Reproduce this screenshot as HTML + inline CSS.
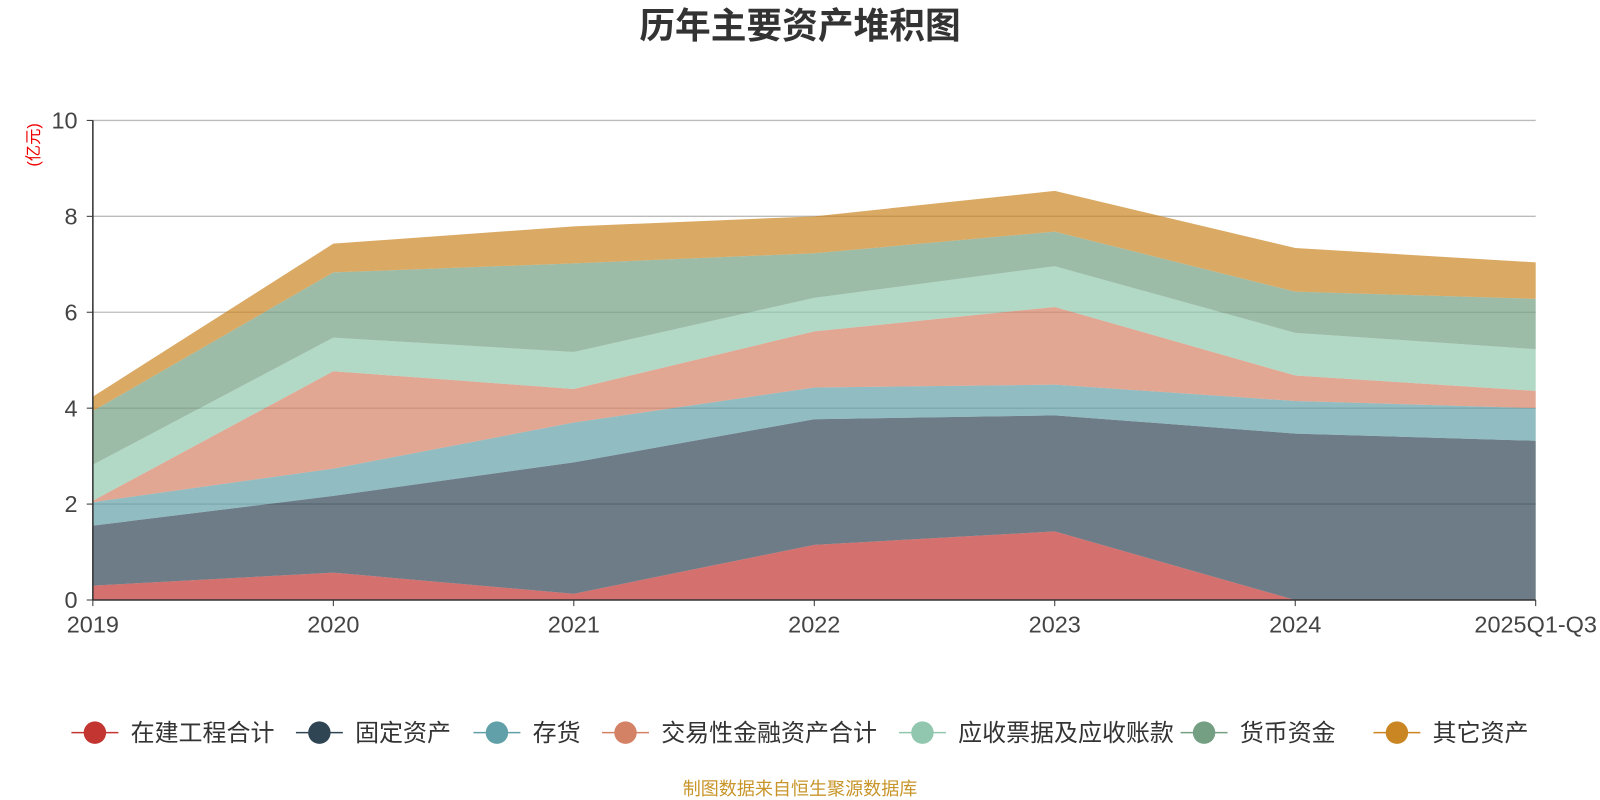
<!DOCTYPE html>
<html><head><meta charset="utf-8">
<style>
body{margin:0;background:#fff;font-family:"Liberation Sans","Noto Sans CJK SC",sans-serif;}
#wrap{position:relative;width:1600px;height:800px;overflow:hidden;}
</style></head>
<body>
<div id="wrap">
<svg id="svg" width="1600" height="800" xmlns="http://www.w3.org/2000/svg" style="font-family:'Liberation Sans','Noto Sans CJK SC',sans-serif">
<g transform="scale(1.0204)">
<text x="784" y="37" text-anchor="middle" font-size="35" font-weight="bold" fill="#333">历年主要资产堆积图</text>
<text transform="translate(38,142) rotate(-90)" text-anchor="middle" font-size="16" fill="#e00">(亿元)</text>
<g id="grid"></g><g id="areas"></g><g id="axes"></g><g id="legend"></g>
<text x="784" y="779" text-anchor="middle" font-size="17.7" fill="#c8952a">制图数据来自恒生聚源数据库</text>
</g>
</svg>
</div>
<script>
const categories=["2019","2020","2021","2022","2023","2024","2025Q1-Q3"];
const seriesNames=["在建工程合计","固定资产","存货","交易性金融资产合计","应收票据及应收账款","货币资金","其它资产"];
const sConstruction=[0.30,0.57,0.13,1.15,1.43,0,0];
const sFixed=[1.25,1.60,2.74,2.62,2.42,3.47,3.32];
const sInventory=[0.49,0.57,0.83,0.66,0.64,0.68,0.68];
const sTrading=[0.03,2.03,0.70,1.17,1.62,0.53,0.36];
const sReceivable=[0.75,0.70,0.77,0.70,0.85,0.89,0.87];
const sCash=[1.12,1.36,1.85,0.93,0.72,0.86,1.05];
const sOther=[0.30,0.60,0.77,0.77,0.85,0.91,0.76];
const yTicks=[0,2,4,6,8,10];
const series=[sConstruction,sFixed,sInventory,sTrading,sReceivable,sCash,sOther];
const colors=["#c23531","#2f4554","#61a0a8","#d48265","#91c7ae","#749f83","#ca8622"];
const X0=91,X1=1505,Y0=588,Y1=118,YMAX=10;
const xs=i=>X0+(X1-X0)*i/(categories.length-1);
const ys=v=>Y0-(Y0-Y1)*v/YMAX;
const NS="http://www.w3.org/2000/svg";
function mk(t,a,p){const e=document.createElementNS(NS,t);for(const k in a)e.setAttribute(k,a[k]);p.appendChild(e);return e;}
const grid=document.getElementById('grid'),areas=document.getElementById('areas'),axes=document.getElementById('axes'),legend=document.getElementById('legend');
yTicks.forEach(t=>{
 if(t>0){const l=mk('line',{x1:X0,x2:X1,y1:ys(t),y2:ys(t),stroke:'#bbb','stroke-width':1.3},grid);
 
 }
 const tk=mk('line',{x1:X0-6,x2:X0,y1:ys(t),y2:ys(t),stroke:'#333'},axes);
 
 
 const tx=mk('text',{x:X0-15,y:ys(t)+8,'text-anchor':'end','font-size':23,fill:'#444'},axes);tx.textContent=t;
 
 
});
let base=categories.map(()=>0);
series.forEach((s,si)=>{
 const top=base.map((b,i)=>b+s[i]);
 let d='M'+categories.map((c,i)=>xs(i)+','+ys(top[i])).join('L');
 for(let i=categories.length-1;i>=0;i--)d+='L'+xs(i)+','+ys(base[i]);
 const p=mk('path',{d:d+'Z',fill:colors[si],'fill-opacity':0.7,stroke:'none'},areas);
 
 
 base=top;
});
const ax=mk('line',{x1:X0,x2:X0,y1:Y1,y2:Y0,stroke:'#333','stroke-width':1.5},axes);


const bx=mk('line',{x1:X0,x2:X1,y1:Y0,y2:Y0,stroke:'#333','stroke-width':1.5},axes);


categories.forEach((c,i)=>{
 const tk=mk('line',{x1:xs(i),x2:xs(i),y1:Y0,y2:Y0+6,stroke:'#333'},axes);
 
 
 const tx=mk('text',{x:xs(i),y:Y0+32,'text-anchor':'middle','font-size':23,fill:'#444'},axes);tx.textContent=c;
 
 
});
const lx=[70,290,464,590,881,1157,1346];
seriesNames.forEach((n,i)=>{
 const g=mk('g',{},legend);
 
 
 mk('line',{x1:lx[i],x2:lx[i]+46,y1:718,y2:718,stroke:colors[i],'stroke-width':1.5},g);
 mk('circle',{cx:lx[i]+23,cy:718,r:11,fill:colors[i]},g);
 const t=mk('text',{x:lx[i]+58,y:726,'font-size':23.5,fill:'#333'},g);t.textContent=n;
});
</script>
</body></html>
